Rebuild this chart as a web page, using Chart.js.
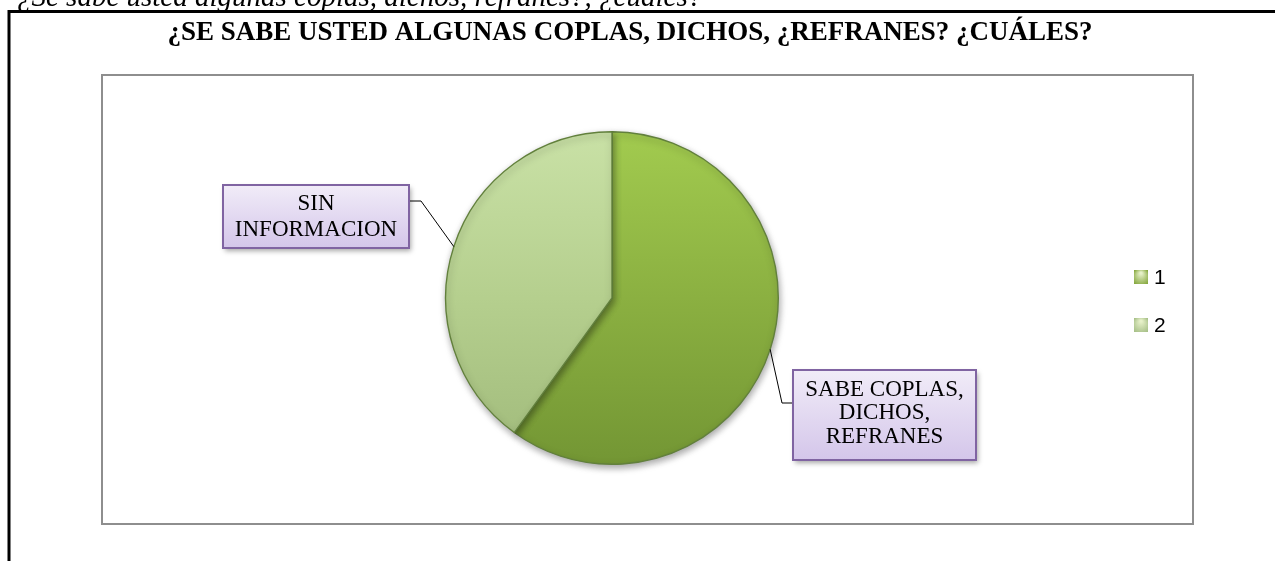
<!DOCTYPE html>
<html lang="es">
<head>
  <meta charset="UTF-8"/>
  <title>¿Se sabe usted algunas coplas, dichos, refranes? ¿Cuáles?</title>
  <script src="https://cdn.jsdelivr.net/npm/chart.js"></script>
  <style>
    * { box-sizing: border-box; margin: 0; padding: 0; }
    body { background: #fff; width: 1275px; height: 561px; overflow: hidden; }
    canvas { display: block; }
  </style>
</head>
<body>
  <canvas id="pieChart" width="1275" height="561"></canvas>

  <script>
    // data
    const categories = ['1', '2'];
    const values = [60, 40];
    const sliceLabels = [
      ['SABE COPLAS,', 'DICHOS,', 'REFRANES'],
      ['SIN', 'INFORMACION']
    ];
    const chartTitle = '¿SE SABE USTED ALGUNAS COPLAS, DICHOS, ¿REFRANES? ¿CUÁLES?';
    const captionText = '¿Se sabe usted algunas coplas, dichos, refranes?, ¿cuáles?';

    // gradient stops per slice (top -> bottom)
    const sliceColors = [
      ['#a2cb4f', '#8bb041', '#739634'],
      ['#c9e1a6', '#b5cf8e', '#a0ba7b']
    ];
    const legendColors = ['#86a83f', '#a7c088'];

    const serif = '"Liberation Serif", "Times New Roman", serif';

    function sliceGradient(ctx) {
      const chart = ctx.chart;
      const area = chart.chartArea;
      if (!area) return sliceColors[ctx.dataIndex][1];
      const stops = sliceColors[ctx.dataIndex];
      const g = chart.ctx.createLinearGradient(0, area.top, 0, area.bottom);
      g.addColorStop(0, stops[0]);
      g.addColorStop(0.5, stops[1]);
      g.addColorStop(1, stops[2]);
      return g;
    }

    // drop shadow under the pie
    const pieShadow = {
      id: 'pieShadow',
      beforeDatasetsDraw(chart) {
        const c = chart.ctx;
        c.save();
        c.shadowColor = 'rgba(0,0,0,0.35)';
        c.shadowBlur = 7;
        c.shadowOffsetX = 1;
        c.shadowOffsetY = 3;
      },
      afterDatasetsDraw(chart) {
        chart.ctx.restore();
      }
    };

    function labelBox(c, x, y, w, h, lines, lineH, midY) {
      c.save();
      c.shadowColor = 'rgba(0,0,0,0.35)';
      c.shadowBlur = 5;
      c.shadowOffsetX = 2;
      c.shadowOffsetY = 3;
      const g = c.createLinearGradient(0, y, 0, y + h);
      g.addColorStop(0, '#f1ecf8');
      g.addColorStop(1, '#d4c6ea');
      c.fillStyle = g;
      c.fillRect(x, y, w, h);
      c.restore();
      c.strokeStyle = '#8064a2';
      c.lineWidth = 2;
      c.strokeRect(x, y, w, h);
      c.fillStyle = '#000';
      c.font = '23px ' + serif;
      c.textAlign = 'center';
      c.textBaseline = 'middle';
      const top = midY - (lines.length - 1) * lineH / 2;
      lines.forEach((t, i) => c.fillText(t, x + w / 2, top + i * lineH));
    }

    const decorations = {
      id: 'decorations',
      beforeDraw(chart) {
        const c = chart.ctx;
        c.save();
        // caption above the frame (cut off at top)
        c.fillStyle = '#000';
        c.font = 'italic 29px ' + serif;
        c.textAlign = 'left';
        c.textBaseline = 'alphabetic';
        c.fillText(captionText, 17, 6);

        // outer frame: top and left edges
        c.strokeStyle = '#000';
        c.lineWidth = 3;
        c.beginPath();
        c.moveTo(1275, 11.5);
        c.lineTo(9, 11.5);
        c.lineTo(9, 561);
        c.stroke();

        // title
        c.font = 'bold 27px ' + serif;
        c.textAlign = 'center';
        c.fillText(chartTitle, 630, 40);

        // plot area box
        c.strokeStyle = '#8e8e8e';
        c.lineWidth = 2;
        c.strokeRect(102, 75, 1091, 449);
        c.restore();
      },
      afterDraw(chart) {
        const c = chart.ctx;
        const meta = chart.getDatasetMeta(0);
        c.save();

        // leader lines from the middle of each slice's rim
        const elbows = [[[782, 403], [793, 403]], [[421, 201], [409, 201]]];
        meta.data.forEach((arc, i) => {
          const mid = (arc.startAngle + arc.endAngle) / 2;
          const px = arc.x + Math.cos(mid) * arc.outerRadius;
          const py = arc.y + Math.sin(mid) * arc.outerRadius;
          c.strokeStyle = '#000';
          c.lineWidth = 1;
          c.beginPath();
          c.moveTo(px, py);
          elbows[i].forEach(p => c.lineTo(p[0], p[1]));
          c.stroke();
        });

        labelBox(c, 793, 370, 183, 90, sliceLabels[0], 23.5, 413);
        labelBox(c, 223, 185, 186, 63, sliceLabels[1], 26, 217);

        // legend
        c.font = '21px "Liberation Sans", Arial, sans-serif';
        c.textAlign = 'left';
        c.textBaseline = 'middle';
        categories.forEach((cat, i) => {
          const cy = 277 + i * 48;
          const g = c.createRadialGradient(1141, cy - 4, 1, 1141, cy, 9);
          g.addColorStop(0, '#e6f0c8');
          g.addColorStop(1, legendColors[i]);
          c.fillStyle = g;
          c.fillRect(1134, cy - 7, 14, 14);
          c.fillStyle = '#000';
          c.fillText(cat, 1154, cy + 1);
        });
        c.restore();
      }
    };

    new Chart(document.getElementById('pieChart'), {
      type: 'pie',
      data: {
        labels: categories,
        datasets: [{
          data: values,
          backgroundColor: sliceGradient,
          borderColor: '#62803c',
          borderWidth: 1.4
        }]
      },
      options: {
        responsive: false,
        devicePixelRatio: 1,
        animation: false,
        layout: { padding: { left: 445, right: 496, top: 131, bottom: 96 } },
        plugins: {
          legend: { display: false },
          title: { display: false },
          tooltip: { enabled: false }
        }
      },
      plugins: [decorations, pieShadow]
    });
  </script>
</body>
</html>
